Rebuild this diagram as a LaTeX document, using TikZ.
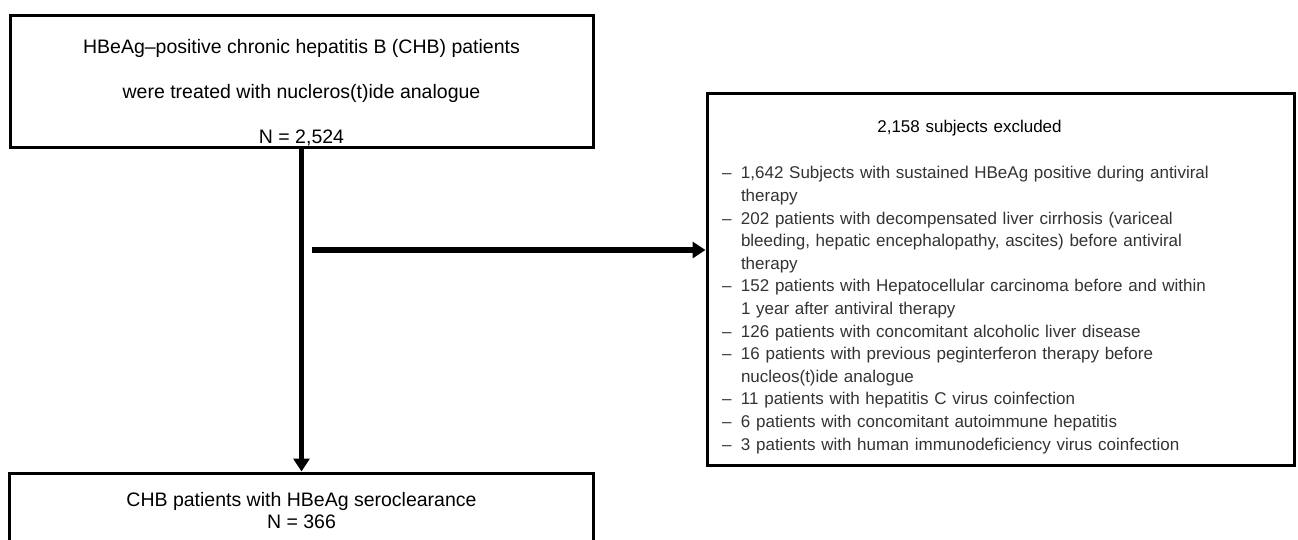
\documentclass[tikz,border=0pt]{standalone}
\usepackage{fontspec}
\setmainfont{Liberation Sans}
\usetikzlibrary{arrows.meta, positioning, calc}
\tikzstyle{process} = [rectangle, draw=black, line width=3pt, inner sep=0pt, text centered, align=center]
\tikzstyle{arrow} = [line width=5pt, -{Triangle[width=16pt,length=13pt]}]
\newcommand{\exdash}{\makebox[19pt][l]{–}}
\newcommand{\exindent}{\hspace*{19pt}}

\begin{document}
\begin{tikzpicture}[x=1pt, y=-1pt]
			\useasboundingbox (0,0) rectangle (1298,539);
			\node(cohort)[process, minimum width=583pt, minimum height=132pt, font=\fontsize{19.5}{45}\selectfont] at (301.5,81) {\rule{0pt}{37pt}HBeAg–positive chronic hepatitis B (CHB) patients\\ were treated with nucleros(t)ide analogue\\ N = 2,524};
			\node(seroclear)[process, below=323pt of cohort, minimum width=584pt, inner ysep=19.4pt, font=\fontsize{19.5}{21.5}\selectfont]{CHB patients with HBeAg seroclearance\\ N = 366};
			\node(excluded)[process, minimum width=587pt, minimum height=372pt, text width=557pt, align=left, text=black!80, font=\fontsize{17}{22.6}\selectfont] at (1000.5,279) {\rule{0pt}{28.4pt}\makebox[495pt]{\color{black}2,158 subjects excluded}\\[23.7pt]
				\exdash 1,642 Subjects with sustained HBeAg positive during antiviral\\
				\exindent therapy\\
				\exdash 202 patients with decompensated liver cirrhosis (variceal\\
				\exindent bleeding, hepatic encephalopathy, ascites) before antiviral\\
				\exindent therapy\\
				\exdash 152 patients with Hepatocellular carcinoma before and within\\
				\exindent 1 year after antiviral therapy\\
				\exdash 126 patients with concomitant alcoholic liver disease\\
				\exdash 16 patients with previous peginterferon therapy before\\
				\exindent nucleos(t)ide analogue\\
				\exdash 11 patients with hepatitis C virus coinfection\\
				\exdash 6 patients with concomitant autoimmune hepatitis\\
				\exdash 3 patients with human immunodeficiency virus coinfection};
			\coordinate(split) at (312,250);
			
			\draw [arrow] (cohort) -- (seroclear);
			\draw [arrow, line width=6pt] (split) -- (split -| excluded.west);
\end{tikzpicture}
\end{document}
